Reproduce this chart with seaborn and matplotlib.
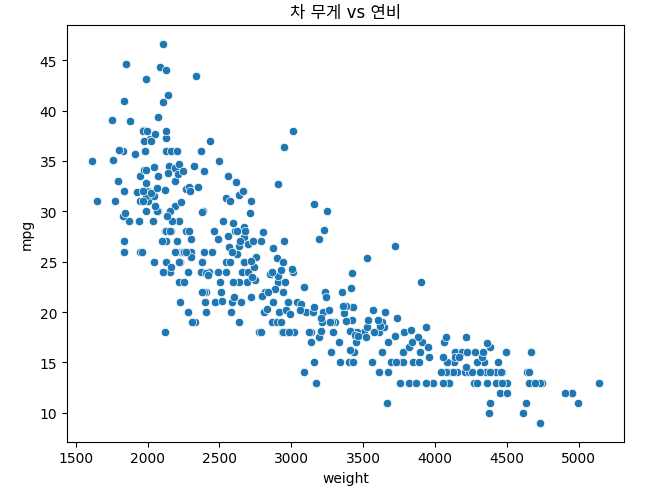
import pandas as pd
import matplotlib
matplotlib.use("Agg")
import matplotlib.pyplot as plt
import seaborn as sns

# auto mpg: vehicle weight (lbs) and fuel economy (mpg)
weight = [
    3504, 3693, 3436, 3433, 3449, 4341, 4354, 4312, 4425, 3850, 3563, 3609, 3761, 3086, 2372, 2833,
    2774, 2587, 2130, 1835, 2672, 2430, 2375, 2234, 2648, 4615, 4376, 4382, 4732, 2130, 2264, 2228,
    2046, 2634, 3439, 3329, 3302, 3288, 4209, 4464, 4154, 4096, 4955, 4746, 5140, 2962, 2408, 3282,
    3139, 2220, 2123, 2074, 2065, 1773, 1613, 1834, 1955, 2278, 2126, 2254, 2408, 2226, 4274, 4385,
    4135, 4129, 3672, 4633, 4502, 4456, 4422, 2330, 3892, 4098, 4294, 4077, 2933, 2511, 2979, 2189,
    2395, 2288, 2506, 2164, 2100, 4100, 3672, 3988, 4042, 3777, 4952, 4464, 4363, 4237, 4735, 4951,
    3821, 3121, 3278, 2945, 3021, 2904, 1950, 4997, 4906, 4654, 4499, 2789, 2279, 2401, 2379, 2124,
    2310, 2472, 2265, 4082, 4278, 1867, 2158, 2582, 2868, 3399, 2660, 2807, 3664, 3102, 2875, 2901,
    3336, 1950, 2451, 1836, 2542, 3781, 3632, 3613, 4141, 4699, 4457, 4638, 4257, 2219, 1963, 2300,
    1649, 2003, 2125, 2108, 2246, 2489, 2391, 2000, 3264, 3459, 3432, 3158, 4668, 4440, 4498, 4657,
    3907, 3897, 3730, 3785, 3039, 3221, 3169, 2171, 2639, 2914, 2592, 2702, 2223, 2545, 2984, 1937,
    3211, 2694, 2957, 2945, 2671, 1795, 2464, 2220, 2572, 2255, 2202, 4215, 4190, 3962, 4215, 3233,
    3353, 3012, 3085, 2035, 2164, 1937, 1795, 3651, 3574, 3645, 3193, 1825, 1990, 2155, 2565, 3150,
    3940, 3270, 2930, 3820, 4380, 4055, 3870, 3755, 2045, 2155, 1825, 2300, 1945, 3880, 4060, 4140,
    4295, 3520, 3425, 3630, 3525, 4220, 4165, 4325, 4335, 1940, 2740, 2265, 2755, 2051, 2075, 1985,
    2190, 2815, 2600, 2720, 1985, 1800, 1985, 2070, 1800, 3365, 3735, 3570, 3535, 3155, 2965, 2720,
    3430, 3210, 3380, 3070, 3620, 3410, 3425, 3445, 3205, 4080, 2155, 2560, 2300, 2230, 2515, 2745,
    2855, 2405, 2830, 3140, 2795, 3410, 1990, 2135, 3245, 2990, 2890, 3265, 3360, 3840, 3725, 3955,
    3830, 4360, 4054, 3605, 3940, 1925, 1975, 1915, 2670, 3530, 3900, 3190, 3420, 2200, 2150, 2020,
    2130, 2670, 2595, 2700, 2556, 2144, 1968, 2120, 2019, 2678, 2870, 3003, 3381, 2188, 2711, 2542,
    2434, 2265, 2110, 2800, 2110, 2085, 2335, 2950, 3250, 1850, 1835, 2145, 1845, 2910, 2420, 2500,
    2905, 2290, 2490, 2635, 2620, 2725, 2385, 1755, 1875, 1760, 2065, 1975, 2050, 1985, 2215, 2045,
    2380, 2190, 2320, 2210, 2350, 2615, 2635, 3230, 3160, 2900, 2930, 3415, 3725, 3060, 3465, 2605,
    2640, 2395, 2575, 2525, 2735, 2865, 1980, 2025, 1970, 2125, 2125, 2160, 2205, 2245, 1965, 1965,
    1995, 2945, 3015, 2585, 2835, 2665, 2370, 2950, 2790, 2130, 2295, 2625, 2720,
]
mpg = [
    18.0, 15.0, 18.0, 16.0, 17.0, 15.0, 14.0, 14.0, 14.0, 15.0, 15.0, 14.0, 15.0, 14.0, 24.0, 22.0,
    18.0, 21.0, 27.0, 26.0, 25.0, 24.0, 25.0, 26.0, 21.0, 10.0, 10.0, 11.0, 9.0, 27.0, 28.0, 25.0,
    25.0, 19.0, 16.0, 17.0, 19.0, 18.0, 14.0, 14.0, 14.0, 14.0, 12.0, 13.0, 13.0, 18.0, 22.0, 19.0,
    18.0, 23.0, 28.0, 30.0, 30.0, 31.0, 35.0, 27.0, 26.0, 24.0, 25.0, 23.0, 20.0, 21.0, 13.0, 14.0,
    15.0, 14.0, 17.0, 11.0, 13.0, 12.0, 13.0, 19.0, 15.0, 13.0, 13.0, 14.0, 18.0, 22.0, 21.0, 26.0,
    22.0, 28.0, 23.0, 28.0, 27.0, 13.0, 14.0, 13.0, 14.0, 15.0, 12.0, 13.0, 13.0, 14.0, 13.0, 12.0,
    13.0, 18.0, 16.0, 18.0, 18.0, 23.0, 26.0, 11.0, 12.0, 13.0, 12.0, 18.0, 20.0, 21.0, 22.0, 18.0,
    19.0, 21.0, 26.0, 15.0, 16.0, 29.0, 24.0, 20.0, 19.0, 15.0, 24.0, 20.0, 11.0, 20.0, 21.0, 19.0,
    15.0, 31.0, 26.0, 32.0, 25.0, 16.0, 16.0, 18.0, 16.0, 13.0, 14.0, 14.0, 14.0, 29.0, 26.0, 26.0,
    31.0, 32.0, 28.0, 24.0, 26.0, 24.0, 26.0, 31.0, 19.0, 18.0, 15.0, 15.0, 16.0, 15.0, 16.0, 14.0,
    17.0, 16.0, 15.0, 18.0, 21.0, 20.0, 13.0, 29.0, 23.0, 20.0, 23.0, 24.0, 25.0, 24.0, 18.0, 29.0,
    19.0, 23.0, 23.0, 22.0, 25.0, 33.0, 28.0, 25.0, 25.0, 26.0, 27.0, 17.5, 16.0, 15.5, 14.5, 22.0,
    22.0, 24.0, 22.5, 29.0, 24.5, 29.0, 33.0, 20.0, 18.0, 18.5, 17.5, 29.5, 32.0, 28.0, 26.5, 20.0,
    13.0, 19.0, 19.0, 16.5, 16.5, 13.0, 13.0, 13.0, 31.5, 30.0, 36.0, 25.5, 33.5, 17.5, 17.0, 15.5,
    15.0, 17.5, 20.5, 19.0, 18.5, 16.0, 15.5, 15.5, 16.0, 29.0, 24.5, 26.0, 25.5, 30.5, 33.5, 30.0,
    30.5, 22.0, 21.5, 21.5, 43.1, 36.1, 32.8, 39.4, 36.1, 19.9, 19.4, 20.2, 19.2, 20.5, 20.2, 25.1,
    20.5, 19.4, 20.6, 20.8, 18.6, 18.1, 19.2, 17.7, 18.1, 17.5, 30.0, 27.5, 27.2, 30.9, 21.1, 23.2,
    23.8, 23.9, 20.3, 17.0, 21.6, 16.2, 31.5, 29.5, 21.5, 19.8, 22.3, 20.2, 20.6, 17.0, 17.6, 16.5,
    18.2, 16.9, 15.5, 19.2, 18.5, 31.9, 34.1, 35.7, 27.4, 25.4, 23.0, 27.2, 23.9, 34.2, 34.5, 31.8,
    37.3, 28.4, 28.8, 26.8, 33.5, 41.5, 38.1, 32.1, 37.2, 28.0, 26.4, 24.3, 19.1, 34.3, 29.8, 31.3,
    37.0, 32.2, 46.6, 27.9, 40.8, 44.3, 43.4, 36.4, 30.0, 44.6, 40.9, 33.8, 29.8, 32.7, 23.7, 35.0,
    23.6, 32.4, 27.2, 26.6, 25.8, 23.5, 30.0, 39.1, 39.0, 35.1, 32.3, 37.0, 37.7, 34.1, 34.7, 34.4,
    29.9, 33.0, 34.5, 33.7, 32.4, 32.9, 31.6, 28.1, 30.7, 25.4, 24.2, 22.4, 26.6, 20.2, 17.6, 28.0,
    27.0, 34.0, 31.0, 29.0, 27.0, 24.0, 36.0, 37.0, 31.0, 38.0, 36.0, 36.0, 36.0, 34.0, 38.0, 32.0,
    38.0, 25.0, 38.0, 26.0, 22.0, 32.0, 36.0, 27.0, 27.0, 44.0, 32.0, 28.0, 31.0,
]

title = "차 무게 vs 연비"

df = pd.DataFrame({"weight": weight, "mpg": mpg})

fig, ax = plt.subplots(figsize=(6.61, 5.02), dpi=100)
sns.scatterplot(data=df, x="weight", y="mpg", ax=ax)
ax.set_title(title, family=["DejaVu Sans", "Noto Sans CJK KR"])
ax.set_xticks([1500, 2000, 2500, 3000, 3500, 4000, 4500, 5000])
ax.set_yticks([10, 15, 20, 25, 30, 35, 40, 45])

plt.subplots_adjust(left=0.101, right=0.944, top=0.948, bottom=0.118)
plt.savefig("out.png", dpi=100)
